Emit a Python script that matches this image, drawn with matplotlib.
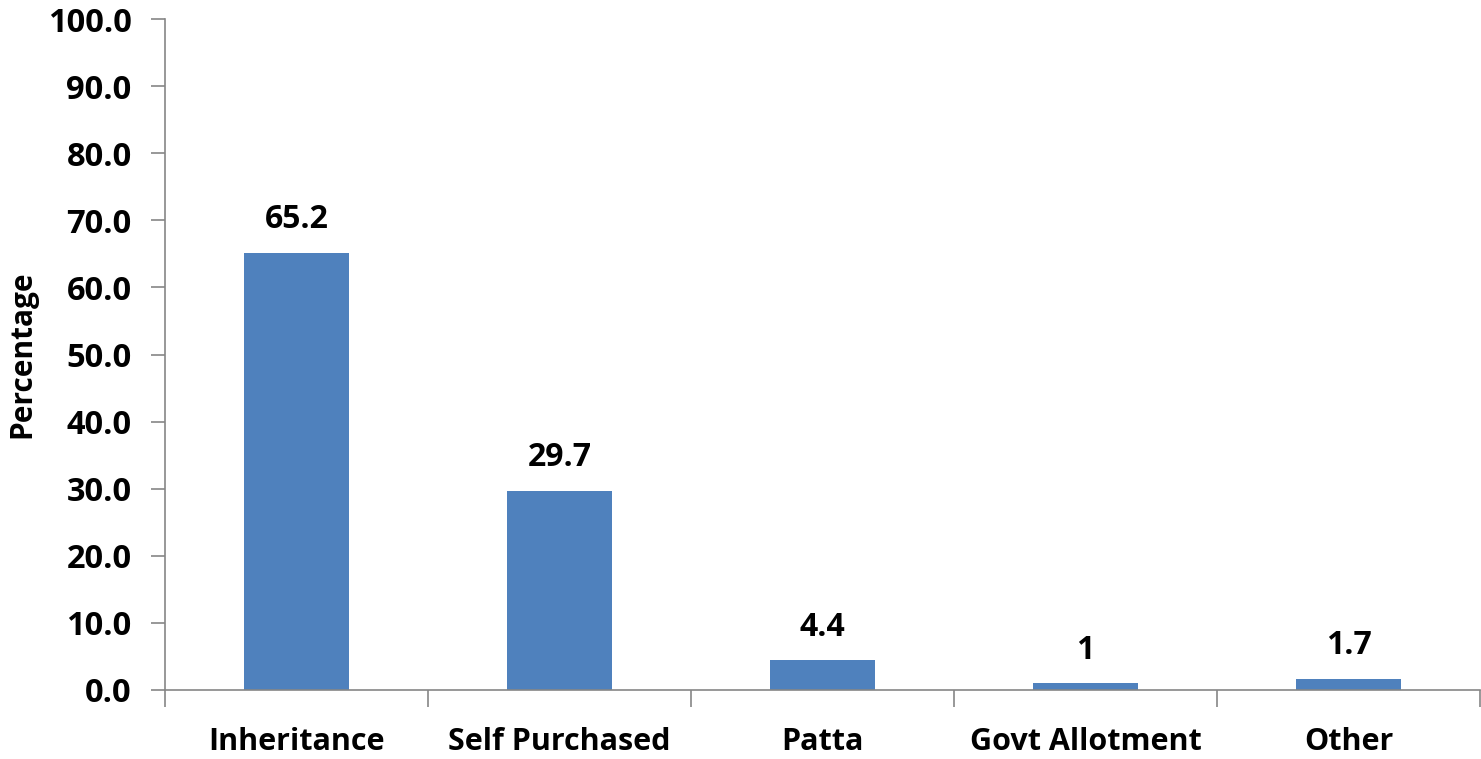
import matplotlib
matplotlib.use("Agg")
import matplotlib.pyplot as plt
import numpy as np

categories = ["Inheritance", "Self Purchased", "Patta", "Govt Allotment", "Other"]
values = [65.2, 29.7, 4.4, 1.0, 1.7]
value_labels = ["65.2", "29.7", "4.4", "1", "1.7"]
y_ticks = np.arange(0, 101, 10)

plt.rcParams["font.family"] = ["Open Sans", "DejaVu Sans"]
plt.rcParams["font.weight"] = "bold"

fig = plt.figure(figsize=(14.81, 7.59), dpi=100)
ax = fig.add_axes([165 / 1481, 1 - 690 / 759, 1315 / 1481, 671 / 759])

x = np.arange(len(categories))
ax.bar(x, values, width=0.4, color="#4F81BD")

for xi, v, lab in zip(x, values, value_labels):
    ax.annotate(lab, (xi, v), xytext=(0, 12), textcoords="offset points",
                ha="center", va="bottom", fontsize=23, fontweight="bold")

ax.set_xlim(-0.5, len(categories) - 0.5)
ax.set_ylim(0, 100)
ax.set_yticks(y_ticks)
ax.set_yticklabels([f"{t:.1f}" for t in y_ticks], fontsize=23.5, fontweight="bold")

# category labels centered, ticks on the boundaries
ax.set_xticks(x)
ax.set_xticklabels(categories, fontsize=22, fontweight="bold")
ax.tick_params(axis="x", length=0, pad=27)
ax.set_xticks(np.arange(-0.5, len(categories), 1), minor=True)
ax.tick_params(axis="x", which="minor", length=12, color="#868686", width=1.2)
ax.tick_params(axis="y", length=10, color="#868686", width=1.2, pad=14)

for s in ["top", "right"]:
    ax.spines[s].set_visible(False)
for s in ["left", "bottom"]:
    ax.spines[s].set_color("#868686")
    ax.spines[s].set_linewidth(1.2)

ax.set_ylabel("Percentage", fontsize=21.5, fontweight="bold")
ax.yaxis.set_label_coords(-128 / 1315, 0.5)

fig.savefig("out.png", dpi=100)
